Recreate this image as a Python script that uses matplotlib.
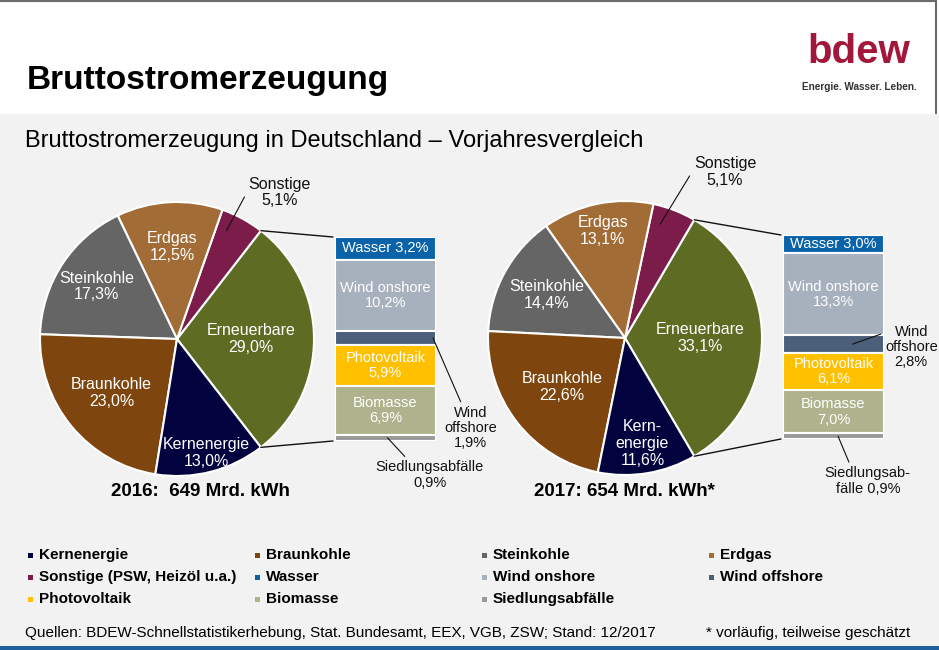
import matplotlib
matplotlib.use('Agg')
import matplotlib.pyplot as plt
from matplotlib.patches import Rectangle, ConnectionPatch
import numpy as np

plt.rcParams['font.family'] = ['Liberation Sans', 'DejaVu Sans']

# Anteile an der Bruttostromerzeugung (%)
PIE_LABELS = ['Erneuerbare', 'Sonstige', 'Erdgas', 'Steinkohle', 'Braunkohle', 'Kernenergie']
PIE_2016 = [29.0, 5.1, 12.5, 17.3, 23.0, 13.0]
PIE_2017 = [33.1, 5.1, 13.1, 14.4, 22.6, 11.6]
PIE_COLORS = ['#5e6b22', '#7b1c4a', '#a26c36', '#656565', '#7e460e', '#02023f']

# Aufteilung Erneuerbare (von oben nach unten)
REN_LABELS = ['Wasser', 'Wind onshore', 'Wind offshore', 'Photovoltaik', 'Biomasse', 'Siedlungsabfälle']
REN_2016 = [3.2, 10.2, 1.9, 5.9, 6.9, 0.9]
REN_2017 = [3.0, 13.3, 2.8, 6.1, 7.0, 0.9]
REN_COLORS = ['#0a63a9', '#a7b0bd', '#4b5f7b', '#ffc000', '#afb38d', '#999999']

TOTALS = ['2016:  649 Mrd. kWh', '2017: 654 Mrd. kWh*']

LEGEND_LABELS = ['Kernenergie', 'Braunkohle', 'Steinkohle', 'Erdgas',
                 'Sonstige (PSW, Heizöl u.a.)', 'Wasser', 'Wind onshore', 'Wind offshore',
                 'Photovoltaik', 'Biomasse', 'Siedlungsabfälle']
LEGEND_COLORS = ['#02023f', '#7e460e', '#656565', '#a26c36',
                 '#7b1c4a', '#0a63a9', '#a7b0bd', '#4b5f7b',
                 '#ffc000', '#afb38d', '#999999']

W, H = 939, 650
BG = '#f2f2f2'


def pct(v):
    return f'{v:.1f}'.replace('.', ',') + '%'


def px_box(cx, cy, w, h):
    # pixel box (centre, top-left origin) -> figure fraction
    return [(cx - w / 2) / W, (H - cy - h / 2) / H, w / W, h / H]


def draw_pie(ax, values, names, label_r, sonst_text):
    total = sum(values)
    wedges, _ = ax.pie(values, colors=PIE_COLORS, startangle=-values[0] / total * 180,
                       counterclock=True, radius=1, frame=False,
                       wedgeprops=dict(edgecolor='white', linewidth=1.5))
    ax.set_xlim(-1, 1)
    ax.set_ylim(-1, 1)
    for i, w in enumerate(wedges):
        if i == 1:
            continue
        mid = np.deg2rad((w.theta1 + w.theta2) / 2)
        r = label_r[i]
        ax.text(r * np.cos(mid), r * np.sin(mid), f'{names[i]}\n{pct(values[i])}',
                ha='center', va='center', color='white', fontsize=11.5, linespacing=1.15)
    # Sonstige outside with leader line
    w = wedges[1]
    mid = np.deg2rad((w.theta1 + w.theta2) / 2 + 4)
    ax.annotate(f'Sonstige\n{pct(values[1])}', xy=(0.87 * np.cos(mid), 0.87 * np.sin(mid)),
                xytext=sonst_text, ha='center', va='center', fontsize=11.5, color='#111111',
                linespacing=1.15, annotation_clip=False,
                arrowprops=dict(arrowstyle='-', lw=0.8, color='#111111',
                                relpos=(0, 0.6), shrinkA=2, shrinkB=0))
    return wedges


def draw_bar(ax, values, offs_text, offs_rel, sied_text, sied_label):
    total = sum(values)
    bottoms = total - np.cumsum(values)
    ax.bar([0.5] * len(values), values, width=1, bottom=bottoms, color=REN_COLORS,
           edgecolor='white', linewidth=1.5)
    ax.set_xlim(0, 1)
    ax.set_ylim(0, total)
    ax.axis('off')
    for i, name in enumerate(REN_LABELS):
        y = bottoms[i] + values[i] / 2
        if i == 0:
            ax.text(0.5, y, f'{name} {pct(values[i])}', ha='center', va='center',
                    color='white', fontsize=10.5)
        elif i in (1, 3, 4):
            ax.text(0.5, y, f'{name}\n{pct(values[i])}', ha='center', va='center',
                    color='white', fontsize=10.5, linespacing=1.15)
    # Wind offshore
    y_off = bottoms[2] + values[2] / 2
    ax.annotate(f'Wind\noffshore\n{pct(values[2])}', xy=(offs_rel, y_off), xycoords='data',
                xytext=offs_text[0], textcoords='axes fraction', ha='center', va='center',
                fontsize=10.5, color='#111111', linespacing=1.1, annotation_clip=False,
                arrowprops=dict(arrowstyle='-', lw=0.8, color='#111111',
                                relpos=offs_text[1], shrinkA=1, shrinkB=0))
    y_s = bottoms[5] + values[5] / 2
    ax.annotate(sied_label.format(pct(values[5])), xy=(sied_text[2], y_s), xycoords='data',
                xytext=sied_text[0], textcoords='axes fraction', ha='center', va='center',
                fontsize=10.5, color='#111111', linespacing=1.15, annotation_clip=False,
                arrowprops=dict(arrowstyle='-', lw=0.8, color='#111111',
                                relpos=sied_text[1], shrinkA=1, shrinkB=0))
    return total


fig = plt.figure(figsize=(W / 100, H / 100), dpi=100)
fig.patch.set_facecolor(BG)

# background / slide elements
bg = fig.add_axes([0, 0, 1, 1], zorder=-1)
bg.set_xlim(0, W)
bg.set_ylim(H, 0)
bg.axis('off')
bg.add_patch(Rectangle((0, 0), W, 114, facecolor='white', edgecolor='none'))
bg.plot([0, 936], [1, 1], color='#6b6b6b', lw=1.5, solid_capstyle='butt')
bg.plot([935.5, 935.5], [0, 114], color='#6b6b6b', lw=1.5, solid_capstyle='butt')
bg.add_patch(Rectangle((0, 646), W, 4, facecolor='#1f5f9e', edgecolor='none'))

bg.text(27, 89, 'Bruttostromerzeugung', fontsize=24, fontweight='bold', va='baseline', color='black')
bg.text(859, 63, 'bdew', fontsize=29, fontweight='bold', ha='center', va='baseline', color='#a3173b')
bg.text(859, 90, 'Energie. Wasser. Leben.', fontsize=7.2, fontweight='bold', ha='center',
        va='baseline', color='#333333')
bg.text(25, 147, 'Bruttostromerzeugung in Deutschland \u2013 Vorjahresvergleich', fontsize=17,
        va='baseline', color='black')

# legend grid
for i, (lab, col) in enumerate(zip(LEGEND_LABELS, LEGEND_COLORS)):
    r, c = divmod(i, 4)
    x = 30 + c * 227
    y = 555 + r * 22
    bg.add_patch(Rectangle((x - 2.5, y - 2.5), 5, 5, facecolor=col, edgecolor='none'))
    bg.text(x + 9, y, lab, fontsize=11, fontweight='bold', va='center', color='black')

bg.text(25, 633, 'Quellen: BDEW-Schnellstatistikerhebung, Stat. Bundesamt, EEX, VGB, ZSW; Stand: 12/2017',
        fontsize=11, va='center', color='black')
bg.text(706, 633, '* vorläufig, teilweise geschätzt', fontsize=11, va='center', color='black')

bg.text(200, 492, TOTALS[0], fontsize=13.5, fontweight='bold', ha='center', va='center')
bg.text(624, 492, TOTALS[1], fontsize=13.5, fontweight='bold', ha='center', va='center')

# pies
ax_p1 = fig.add_axes(px_box(177, 339, 274, 274))
ax_p2 = fig.add_axes(px_box(625, 338, 274, 274))
names16 = PIE_LABELS
names17 = PIE_LABELS[:5] + ['Kern-\nenergie']
w16 = draw_pie(ax_p1, PIE_2016, names16, [0.54, 0, 0.67, 0.70, 0.62, 0.86], (0.75, 1.07))
w17 = draw_pie(ax_p2, PIE_2017, names17, [0.55, 0, 0.80, 0.65, 0.58, 0.78], (0.73, 1.21))

# bars
ax_b1 = fig.add_axes([335 / W, (H - 441) / H, 101 / W, 204 / H])
ax_b2 = fig.add_axes([783 / W, (H - 439) / H, 101 / W, 204 / H])
t16 = draw_bar(ax_b1, REN_2016, ((1.34, 0.064), (0.35, 1)), 0.97,
               ((0.94, -0.167), (0.3, 1), 0.52), 'Siedlungsabfälle\n{}')
t17 = draw_bar(ax_b2, REN_2017, ((1.27, 0.45), (0.05, 0.85)), 0.69,
               ((0.84, -0.206), (0.3, 1), 0.545), 'Siedlungsab-\nfälle {}')

# connector lines pie -> bar
for ax_p, wedges, ax_b, tot in [(ax_p1, w16, ax_b1, t16), (ax_p2, w17, ax_b2, t17)]:
    ern = wedges[0]
    for ang, yb in [(ern.theta2, tot), (ern.theta1, 0)]:
        a = np.deg2rad(ang)
        con = ConnectionPatch(xyA=(np.cos(a), np.sin(a)), coordsA=ax_p.transData,
                              xyB=(-0.02, yb), coordsB=ax_b.transData,
                              color='#111111', lw=1.0)
        fig.add_artist(con)

fig.savefig('out.png', dpi=100, facecolor=fig.get_facecolor())
